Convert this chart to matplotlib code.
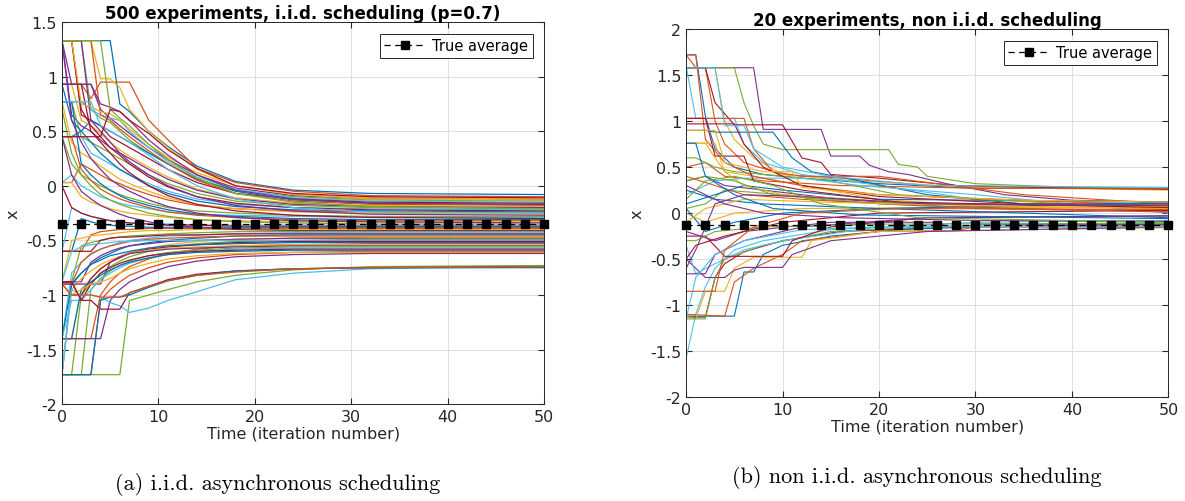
import numpy as np
import matplotlib
matplotlib.use("Agg")
import matplotlib.pyplot as plt

plt.rcParams["font.family"] = ["DejaVu Sans"]
plt.rcParams["axes.unicode_minus"] = False

# MATLAB default colour order
matlab_colors = ["#0072BD", "#D95319", "#EDB120", "#7E2F8E", "#77AC30", "#4DBEEE", "#A2142F"]

# ---- panel (a): i.i.d. scheduling, values read on a shared time grid ----
iid_t = [0, 1, 2, 3, 4, 5, 6, 7, 9, 11, 14, 18, 24, 32, 50]
iid_paths = [
    [1.33, 1.33, 1.33, 1.33, 1.33, 1.33, 0.75, 0.68, 0.50, 0.36, 0.18, 0.04, -0.04, -0.07, -0.08],
    [0.93, 0.93, 0.93, 0.80, 0.95, 0.95, 0.95, 0.95, 0.60, 0.42, 0.16, 0.03, -0.05, -0.09, -0.10],
    [1.33, 1.33, 1.33, 1.33, 0.98, 0.98, 0.90, 0.70, 0.50, 0.35, 0.15, 0.00, -0.08, -0.11, -0.12],
    [1.33, 0.93, 0.93, 0.93, 0.70, 0.62, 0.55, 0.48, 0.35, 0.24, 0.10, -0.02, -0.09, -0.12, -0.13],
    [1.33, 1.33, 1.33, 0.70, 0.62, 0.58, 0.50, 0.42, 0.30, 0.20, 0.06, -0.04, -0.10, -0.13, -0.14],
    [0.77, 0.77, 0.77, 0.70, 0.65, 0.62, 0.60, 0.50, 0.35, 0.22, 0.08, -0.03, -0.11, -0.14, -0.15],
    [1.33, 1.33, 0.65, 0.60, 0.55, 0.45, 0.40, 0.35, 0.25, 0.15, 0.03, -0.07, -0.12, -0.15, -0.16],
    [0.45, 0.45, 0.50, 0.60, 0.55, 0.50, 0.45, 0.40, 0.30, 0.20, 0.06, -0.05, -0.13, -0.16, -0.17],
    [1.33, 1.33, 1.33, 1.33, 0.65, 0.60, 0.52, 0.45, 0.32, 0.20, 0.05, -0.07, -0.14, -0.17, -0.18],
    [0.93, 0.93, 0.60, 0.55, 0.48, 0.40, 0.33, 0.27, 0.17, 0.08, -0.03, -0.11, -0.16, -0.18, -0.19],
    [1.33, 0.65, 0.55, 0.50, 0.42, 0.35, 0.30, 0.25, 0.15, 0.06, -0.04, -0.12, -0.17, -0.19, -0.20],
    [0.77, 0.77, 0.45, 0.40, 0.35, 0.30, 0.25, 0.20, 0.10, 0.02, -0.07, -0.14, -0.18, -0.20, -0.21],
    [0.45, 0.45, 0.45, 0.30, 0.25, 0.20, 0.15, 0.10, 0.02, -0.05, -0.12, -0.17, -0.20, -0.21, -0.22],
    [1.33, 1.33, 0.70, 0.55, 0.45, 0.35, 0.28, 0.20, 0.08, -0.01, -0.10, -0.16, -0.20, -0.22, -0.23],
    [0.93, 0.60, 0.50, 0.40, 0.30, 0.22, 0.15, 0.10, 0.00, -0.07, -0.14, -0.19, -0.22, -0.23, -0.24],
    [0.03, 0.03, 0.20, 0.15, 0.10, 0.05, 0.02, -0.02, -0.08, -0.13, -0.18, -0.21, -0.23, -0.24, -0.25],
    [0.77, 0.40, 0.30, 0.25, 0.18, 0.12, 0.06, 0.02, -0.05, -0.11, -0.17, -0.21, -0.24, -0.25, -0.26],
    [1.33, 1.33, 1.33, 0.60, 0.50, 0.40, 0.30, 0.22, 0.10, 0.00, -0.10, -0.18, -0.23, -0.26, -0.27],
    [0.45, 0.20, 0.10, 0.05, 0.00, -0.04, -0.08, -0.11, -0.16, -0.20, -0.23, -0.25, -0.27, -0.28, -0.28],
    [0.03, 0.10, 0.00, -0.05, -0.10, -0.13, -0.16, -0.18, -0.21, -0.24, -0.26, -0.27, -0.28, -0.29, -0.29],
    [0.93, 0.93, 0.93, 0.50, 0.40, 0.30, 0.20, 0.12, 0.00, -0.09, -0.17, -0.23, -0.27, -0.29, -0.30],
    [0.77, 0.77, 0.20, 0.10, 0.02, -0.04, -0.09, -0.13, -0.18, -0.22, -0.26, -0.28, -0.30, -0.31, -0.31],
    [0.45, 0.45, 0.15, 0.05, -0.03, -0.08, -0.12, -0.15, -0.20, -0.24, -0.27, -0.29, -0.31, -0.32, -0.32],
    [0.03, 0.03, -0.10, -0.15, -0.18, -0.21, -0.23, -0.25, -0.27, -0.29, -0.31, -0.32, -0.33, -0.33, -0.33],
    [1.33, 0.60, 0.40, 0.25, 0.15, 0.06, 0.00, -0.05, -0.13, -0.19, -0.25, -0.29, -0.32, -0.33, -0.34],
    [0.70, 0.30, 0.10, 0.00, -0.08, -0.13, -0.17, -0.20, -0.25, -0.28, -0.31, -0.33, -0.34, -0.35, -0.35],
    [-0.60, -0.20, -0.25, -0.28, -0.30, -0.32, -0.33, -0.34, -0.35, -0.35, -0.36, -0.36, -0.36, -0.36, -0.36],
    [0.00, -0.20, -0.25, -0.28, -0.30, -0.32, -0.33, -0.34, -0.35, -0.36, -0.36, -0.37, -0.37, -0.37, -0.37],
    [-0.60, -0.60, -0.30, -0.33, -0.35, -0.36, -0.37, -0.37, -0.38, -0.38, -0.38, -0.38, -0.38, -0.38, -0.38],
    [-0.60, -0.60, -0.60, -0.45, -0.42, -0.41, -0.40, -0.40, -0.39, -0.39, -0.39, -0.39, -0.39, -0.39, -0.39],
    [-0.88, -0.50, -0.48, -0.46, -0.45, -0.44, -0.43, -0.42, -0.41, -0.41, -0.40, -0.40, -0.40, -0.40, -0.40],
    [0.45, 0.10, -0.05, -0.12, -0.18, -0.22, -0.26, -0.29, -0.33, -0.36, -0.38, -0.40, -0.41, -0.41, -0.41],
    [-0.88, -0.88, -0.55, -0.52, -0.50, -0.48, -0.47, -0.46, -0.45, -0.44, -0.43, -0.42, -0.42, -0.42, -0.42],
    [-1.40, -0.80, -0.70, -0.63, -0.58, -0.55, -0.52, -0.50, -0.48, -0.46, -0.45, -0.44, -0.43, -0.43, -0.43],
    [-0.60, -0.60, -0.60, -0.60, -0.50, -0.48, -0.47, -0.47, -0.46, -0.45, -0.45, -0.44, -0.44, -0.44, -0.44],
    [-1.73, -0.90, -0.80, -0.72, -0.66, -0.62, -0.58, -0.55, -0.52, -0.50, -0.48, -0.46, -0.45, -0.45, -0.45],
    [-0.90, -0.90, -0.70, -0.62, -0.58, -0.55, -0.53, -0.51, -0.49, -0.48, -0.47, -0.46, -0.46, -0.46, -0.46],
    [-1.40, -1.40, -0.95, -0.85, -0.76, -0.70, -0.65, -0.61, -0.57, -0.54, -0.51, -0.49, -0.48, -0.47, -0.47],
    [-0.88, -0.88, -0.88, -0.70, -0.64, -0.60, -0.57, -0.55, -0.53, -0.51, -0.50, -0.49, -0.48, -0.48, -0.48],
    [-1.73, -1.73, -1.00, -0.90, -0.80, -0.74, -0.69, -0.65, -0.60, -0.56, -0.53, -0.51, -0.50, -0.49, -0.49],
    [-0.88, -0.60, -0.56, -0.54, -0.53, -0.52, -0.51, -0.51, -0.50, -0.50, -0.50, -0.50, -0.50, -0.50, -0.50],
    [-0.90, -1.00, -1.00, -0.85, -0.76, -0.70, -0.66, -0.62, -0.58, -0.56, -0.54, -0.52, -0.51, -0.51, -0.51],
    [-1.40, -0.90, -0.80, -0.72, -0.68, -0.64, -0.62, -0.60, -0.57, -0.55, -0.54, -0.53, -0.52, -0.52, -0.52],
    [-1.40, -1.40, -1.40, -1.40, -1.00, -0.88, -0.80, -0.74, -0.67, -0.62, -0.58, -0.55, -0.54, -0.53, -0.53],
    [-1.73, -0.95, -0.85, -0.78, -0.72, -0.68, -0.65, -0.62, -0.59, -0.57, -0.56, -0.55, -0.54, -0.54, -0.54],
    [-0.90, -0.90, -0.90, -0.90, -0.90, -0.70, -0.65, -0.62, -0.60, -0.58, -0.57, -0.56, -0.55, -0.55, -0.55],
    [-1.73, -1.73, -1.73, -0.95, -0.85, -0.78, -0.73, -0.69, -0.64, -0.61, -0.59, -0.57, -0.56, -0.56, -0.56],
    [-1.40, -1.05, -1.05, -0.95, -0.86, -0.80, -0.75, -0.71, -0.66, -0.63, -0.60, -0.58, -0.57, -0.57, -0.57],
    [-0.88, -0.88, -1.05, -0.90, -0.80, -0.75, -0.71, -0.68, -0.64, -0.62, -0.60, -0.59, -0.58, -0.58, -0.58],
    [-1.40, -1.40, -0.95, -0.88, -0.82, -0.77, -0.73, -0.70, -0.66, -0.63, -0.61, -0.60, -0.59, -0.59, -0.59],
    [-1.73, -1.73, -1.73, -1.73, -1.05, -0.95, -0.88, -0.82, -0.75, -0.70, -0.66, -0.63, -0.61, -0.60, -0.60],
    [-0.90, -1.00, -0.95, -0.90, -0.88, -0.85, -0.80, -0.76, -0.71, -0.67, -0.64, -0.62, -0.61, -0.61, -0.61],
    [-1.40, -1.40, -1.40, -1.40, -1.40, -1.05, -0.95, -0.88, -0.80, -0.74, -0.69, -0.65, -0.63, -0.62, -0.62],
    [-1.73, -1.73, -1.73, -1.73, -1.73, -1.73, -1.73, -1.05, -1.00, -0.95, -0.88, -0.82, -0.77, -0.74, -0.73],
    [-1.73, -0.95, -1.00, -1.00, -1.02, -1.07, -1.10, -1.16, -1.12, -1.05, -0.97, -0.86, -0.80, -0.76, -0.74],
    [-0.88, -0.88, -1.05, -1.05, -1.13, -1.13, -1.13, -0.98, -0.92, -0.86, -0.81, -0.78, -0.76, -0.75, -0.74],
    [-1.73, -1.73, -1.73, -1.73, -1.05, -1.02, -1.02, -1.00, -0.93, -0.87, -0.82, -0.78, -0.76, -0.75, -0.75],
    [-0.90, -1.00, -1.00, -1.00, -1.02, -1.02, -1.02, -0.98, -0.92, -0.87, -0.82, -0.79, -0.76, -0.75, -0.74],
    [1.33, 1.33, 0.75, 0.72, 0.68, 0.66, 0.60, 0.52, 0.38, 0.26, 0.12, 0.00, -0.08, -0.12, -0.13],
    [0.93, 0.93, 0.93, 0.93, 0.75, 0.72, 0.68, 0.60, 0.42, 0.28, 0.10, -0.04, -0.12, -0.16, -0.17],
    [1.33, 1.33, 1.33, 1.33, 1.33, 0.70, 0.62, 0.55, 0.38, 0.24, 0.07, -0.07, -0.15, -0.19, -0.21],
    [0.77, 0.77, 0.77, 0.77, 0.55, 0.50, 0.45, 0.40, 0.28, 0.15, 0.00, -0.12, -0.20, -0.24, -0.25],
    [0.45, 0.45, 0.45, 0.45, 0.45, 0.70, 0.68, 0.60, 0.48, 0.33, 0.16, 0.00, -0.07, -0.10, -0.11],
]
iid_avg = -0.35

# ---- panel (b): non i.i.d. scheduling, (time, value) waypoints per line ----
noniid_paths = [
    [(0, 1.72), (1, 1.72), (2, 1.05), (3, 0.70), (5, 0.50), (8, 0.42), (12, 0.38), (20, 0.32), (30, 0.27), (50, 0.27)],
    [(0, 1.72), (1, 1.58), (2, 1.58), (3, 1.00), (4, 0.75), (6, 0.55), (10, 0.42), (16, 0.38), (25, 0.30), (50, 0.26)],
    [(0, 1.58), (3, 1.58), (4, 1.00), (5, 0.80), (7, 0.60), (10, 0.42), (16, 0.36), (30, 0.28), (50, 0.25)],
    [(0, 1.58), (7, 1.58), (8, 0.91), (14, 0.91), (15, 0.62), (18, 0.62), (19, 0.52), (21, 0.45), (23, 0.42), (27, 0.32), (33, 0.20), (40, 0.14), (50, 0.12)],
    [(0, 1.58), (5, 1.58), (6, 1.20), (7, 0.95), (8, 0.75), (10, 0.69), (21, 0.69), (22, 0.53), (24, 0.50), (25, 0.40), (30, 0.32), (40, 0.28), (50, 0.27)],
    [(0, 1.60), (1, 1.03), (5, 1.03), (6, 0.75), (8, 0.55), (12, 0.42), (20, 0.30), (30, 0.15), (50, 0.10)],
    [(0, 1.58), (2, 1.58), (3, 1.20), (5, 0.96), (10, 0.96), (12, 0.60), (14, 0.55), (15, 0.42), (20, 0.38), (28, 0.30), (40, 0.27), (50, 0.26)],
    [(0, 0.90), (2, 0.90), (3, 0.88), (9, 0.88), (11, 0.60), (13, 0.45), (18, 0.35), (25, 0.20), (35, 0.10), (50, 0.08)],
    [(0, 1.03), (6, 1.03), (7, 0.70), (9, 0.45), (12, 0.40), (20, 0.40), (26, 0.32), (35, 0.20), (50, 0.10)],
    [(0, 0.76), (2, 0.76), (3, 0.60), (4, 0.45), (7, 0.40), (12, 0.30), (20, 0.15), (30, 0.08), (50, 0.05)],
    [(0, 0.35), (2, 0.40), (4, 0.30), (8, 0.25), (16, 0.15), (30, 0.05), (50, 0.02)],
    [(0, 0.05), (2, 0.10), (4, 0.25), (10, 0.20), (20, 0.10), (35, 0.04), (50, 0.03)],
    [(0, -1.58), (1, -1.10), (2, -0.80), (3, -0.60), (5, -0.40), (8, -0.30), (15, -0.18), (30, -0.10), (50, -0.08)],
    [(0, -1.13), (2, -1.13), (3, -0.70), (4, -0.55), (6, -0.42), (10, -0.30), (16, -0.20), (28, -0.15), (50, -0.12)],
    [(0, -1.12), (5, -1.12), (6, -0.64), (7, -0.64), (8, -0.45), (10, -0.35), (15, -0.25), (22, -0.18), (30, -0.15), (50, -0.15)],
    [(0, -1.10), (4, -1.12), (5, -0.75), (7, -0.60), (10, -0.45), (12, -0.30), (20, -0.20), (28, -0.19), (30, -0.15), (50, -0.14)],
    [(0, -1.13), (1, -1.15), (2, -0.85), (4, -0.85), (5, -0.60), (7, -0.48), (12, -0.48), (13, -0.30), (20, -0.20), (50, -0.16)],
    [(0, -0.50), (2, -0.70), (4, -0.70), (5, -0.62), (6, -0.59), (10, -0.59), (11, -0.45), (15, -0.30), (25, -0.20), (50, -0.15)],
    [(0, -1.15), (2, -1.15), (3, -0.70), (4, -0.50), (8, -0.35), (15, -0.20), (25, -0.15), (50, -0.14)],
    [(0, -0.35), (1, -0.66), (3, -0.55), (6, -0.40), (10, -0.30), (20, -0.15), (50, -0.10)],
    [(0, -0.25), (2, -0.25), (4, -0.47), (10, -0.47), (11, -0.30), (15, -0.15), (25, -0.05), (50, -0.03)],
    [(0, 0.10), (3, 0.20), (6, 0.30), (10, 0.25), (20, 0.15), (50, 0.12)],
    [(0, 0.50), (2, 0.55), (4, 0.40), (8, 0.35), (16, 0.30), (30, 0.27), (50, 0.27)],
    [(0, 0.00), (2, -0.10), (5, 0.00), (12, 0.05), (30, 0.06), (50, 0.06)],
    [(0, -0.20), (3, -0.30), (6, -0.20), (15, -0.10), (26, -0.10), (28, -0.18), (30, -0.12), (50, -0.12)],
    [(0, 0.60), (1, 0.60), (3, 0.50), (5, 0.45), (10, 0.40), (15, 0.35), (22, 0.20), (50, 0.04)],
    [(0, 0.20), (3, 0.35), (6, 0.38), (12, 0.38), (18, 0.30), (30, 0.20), (50, 0.00)],
    [(0, -0.50), (1, -0.35), (4, -0.25), (10, -0.10), (20, 0.00), (50, 0.03)],
    [(0, 0.25), (3, 0.15), (8, 0.10), (20, 0.05), (50, -0.05)],
    [(0, 1.72), (1, 1.72), (2, 0.80), (4, 0.55), (7, 0.40), (12, 0.30), (20, 0.20), (50, 0.08)],
    [(0, 0.76), (3, 0.76), (4, 0.45), (6, 0.30), (10, 0.20), (25, 0.10), (50, 0.07)],
    [(0, -0.66), (2, -0.66), (3, -0.45), (6, -0.30), (12, -0.15), (25, -0.05), (50, -0.03)],
    [(0, 0.35), (2, 0.40), (5, 0.35), (9, 0.20), (17, 0.12), (30, 0.10), (50, 0.09)],
    [(0, -1.15), (1, -0.70), (3, -0.45), (6, -0.30), (12, -0.18), (20, -0.15), (50, -0.15)],
    [(0, 0.97), (5, 0.97), (6, 0.75), (8, 0.50), (12, 0.30), (20, 0.18), (35, 0.10), (50, 0.10)],
    [(0, 0.05), (2, -0.20), (5, -0.10), (10, 0.00), (20, 0.05), (50, 0.11)],
    [(0, 0.40), (3, 0.30), (6, 0.20), (12, 0.15), (24, 0.08), (50, 0.01)],
    [(0, -0.10), (2, 0.05), (6, 0.15), (14, 0.12), (30, 0.08), (50, 0.05)],
    [(0, 0.30), (4, 0.10), (8, 0.00), (16, -0.05), (30, -0.08), (50, -0.09)],
    [(0, -0.30), (1, -0.30), (3, -0.20), (8, -0.15), (20, -0.12), (50, -0.11)],
    [(0, 1.58), (3, 1.58), (4, 0.95), (6, 0.95), (7, 0.70), (10, 0.50), (15, 0.40), (25, 0.30), (50, 0.28)],
    [(0, 1.03), (2, 1.03), (3, 0.62), (6, 0.62), (7, 0.35), (12, 0.25), (22, 0.12), (50, 0.06)],
    [(0, 0.76), (1, 0.76), (2, 0.40), (5, 0.20), (9, 0.05), (18, -0.02), (50, -0.06)],
    [(0, -0.85), (3, -0.85), (4, -0.40), (7, -0.15), (12, 0.00), (22, 0.05), (50, 0.04)],
    [(0, 0.90), (3, 0.90), (4, 0.55), (8, 0.45), (11, 0.45), (12, 0.28), (20, 0.20), (35, 0.14), (50, 0.12)],
    [(0, -0.60), (1, -0.40), (3, 0.10), (6, 0.20), (12, 0.18), (25, 0.10), (50, 0.08)],
    [(0, 0.15), (2, 0.35), (5, 0.40), (9, 0.30), (14, 0.10), (24, -0.05), (50, -0.10)],
]
noniid_avg = -0.13


def style_axes(ax, ylim, yticks, title):
    ax.set_xlim(0, 50)
    ax.set_ylim(*ylim)
    ax.set_xticks([0, 10, 20, 30, 40, 50])
    ax.set_yticks(yticks)
    ax.set_yticklabels([f"{v:g}" for v in yticks])
    ax.tick_params(direction="in", length=4, labelsize=11.5, colors="#262626", top=True, right=True)
    ax.grid(True, color="#dedede", lw=0.7)
    ax.set_axisbelow(True)
    for s in ax.spines.values():
        s.set_color("#262626")
        s.set_linewidth(0.7)
    ax.set_xlabel("Time (iteration number)", fontsize=11.5, color="#262626", labelpad=1)
    ax.set_ylabel("x", fontsize=11.5, color="#262626")
    ax.set_title(title, fontsize=12, fontweight="bold", pad=3)


def draw_avg(ax, avg):
    tm = np.arange(0, 51, 2)
    ax.plot(tm, np.full(tm.shape, avg), color="black", lw=0.9, dashes=(5, 3.5), marker="s",
            markersize=6, label="True average", zorder=5, clip_on=False)
    leg = ax.legend(loc="upper right", fontsize=10.5, fancybox=False, edgecolor="#262626",
                    framealpha=1, handlelength=2.8, handletextpad=0.5, borderpad=0.3,
                    borderaxespad=0.8)
    leg.get_frame().set_linewidth(0.7)


fig = plt.figure(figsize=(11.85, 5.02), dpi=100)
ax1 = fig.add_axes([0.0523, 0.193, 0.407, 0.761])
ax2 = fig.add_axes([0.579, 0.207, 0.407, 0.733])

for i, p in enumerate(iid_paths):
    ax1.plot(iid_t, p, color=matlab_colors[i % 7], lw=0.9)
style_axes(ax1, (-2, 1.5), [-2, -1.5, -1, -0.5, 0, 0.5, 1, 1.5],
           "500 experiments, i.i.d. scheduling (p=0.7)")
draw_avg(ax1, iid_avg)

for i, p in enumerate(noniid_paths):
    tt, vv = zip(*p)
    ax2.plot(tt, vv, color=matlab_colors[i % 7], lw=0.8)
style_axes(ax2, (-2, 2), [-2, -1.5, -1, -0.5, 0, 0.5, 1, 1.5, 2],
           "20 experiments, non i.i.d. scheduling")
draw_avg(ax2, noniid_avg)

fig.text(0.234, 0.035, "(a) i.i.d. asynchronous scheduling", fontsize=16,
         family="cmr10", ha="center", va="center")
fig.text(0.774, 0.048, "(b) non i.i.d. asynchronous scheduling", fontsize=16,
         family="cmr10", ha="center", va="center")

fig.savefig("out.png", dpi=100)
plt.close(fig)
